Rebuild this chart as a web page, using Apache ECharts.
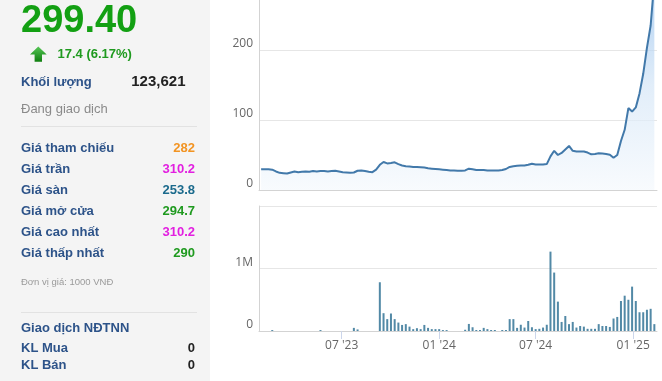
<!DOCTYPE html>
<html><head><meta charset="utf-8">
<script src="https://cdn.jsdelivr.net/npm/echarts@6/dist/echarts.min.js"></script>
<style>html,body{margin:0;padding:0;background:#fff}#c{width:662px;height:381px}</style>
</head><body><div id="c"></div>
<script>
// ---- data ----
const firstWeek = '2023-01-30';   // weekly points (Mondays)
const weekCount = 107;
const price = [
  29.5,29.8,29.6,29,26.5,24.5,24,23.5,25,26.5,
  25.5,26,26.5,26,27,26.5,27,27,26.5,27,
  27.5,26.5,25.5,25,24.5,25,27.5,28,27,26,
  25.5,29,36,40,38,38.5,39.5,37,35,34,
  33.5,33,33,32.5,32,31,30.5,30,29.5,29,
  28.5,28,28,27.5,27.5,28,30.5,29.5,28.5,28.5,
  28.5,28,28,28,28,28.5,30,33,34,34.5,
  35,35,36,37.5,36.5,36.5,36.5,37,48,56,
  50,53,58,63,56,55,55,55,53.5,51,
  51.5,52.5,52,51.5,50.5,46,50,70,86,117,
  112,118,138,166,203,235,299.4
];
const volumeM = [
  0,0,0,0.015,0,0,0,0,0,0,
  0,0,0,0,0,0,0.015,0,0,0,
  0,0,0,0,0,0.05,0.025,0,0,0,
  0,0,0.78,0.285,0.19,0.28,0.19,0.135,0.097,0.11,
  0.07,0.03,0.045,0.03,0.097,0.05,0.03,0.03,0.03,0.015,
  0.015,0,0,0,0,0.02,0.113,0.06,0.016,0.016,
  0.05,0.03,0.016,0.016,0,0.016,0.016,0.19,0.19,0.05,
  0.1,0.055,0.16,0.06,0.03,0.035,0.055,0.1,1.27,0.935,
  0.47,0.145,0.24,0.11,0.145,0.055,0.08,0.07,0.035,0.035,
  0.035,0.11,0.08,0.08,0.065,0.2,0.225,0.48,0.565,0.5,
  0.71,0.48,0.3,0.3,0.34,0.355,0.11
];
const axisStart = '2023-01-26';
const axisEnd = '2025-02-15';
const tickDates = ['2023-07-01','2024-01-01','2024-07-01','2025-01-01'];
const tickLabels = ["07 '23","01 '24","07 '24","01 '25"];
const priceTickLabels = ['0','100','200','300'];
const volumeTickLabels = ['0','1M','2M'];

// side panel info
const lastPrice = '299.40';
const change = '17.4 (6.17%)';
const volumeText = '123,621';
const infoLabels = ['Giá tham chiếu','Giá trần','Giá sàn','Giá mở cửa','Giá cao nhất','Giá thấp nhất'];
const infoValues = ['282','310.2','253.8','294.7','310.2','290'];
const infoColors = ['#f29423','#e21fe0','#1b6a8c','#1f9a1f','#e21fe0','#1f9a1f'];

// ---- build ----
const ts = s => { const [y,m,d] = s.split('-').map(Number); return new Date(y, m-1, d).getTime(); };
const fw = firstWeek.split('-').map(Number);
const weeks = [];
for (let i = 0; i < weekCount; i++) weeks.push(new Date(fw[0], fw[1]-1, fw[2] + 7*i).getTime());
const priceData = weeks.map((t,i) => [t, price[i]]);
const volData = weeks.map((t,i) => [t, volumeM[i]]);
const tickTs = tickDates.map(ts);

const FONT = "'Liberation Sans', Arial, sans-serif";
const AX_FONT = "'Open Sans', sans-serif";
const BLUE = '#2d5389';
function T(text, x, y, size, fill, weight, align) {
  return { type:'text', x:x, y:y, silent:true,
    style:{ text:text, fill:fill, fontSize:size, fontWeight:weight||'normal', fontFamily:FONT,
      align:align||'left', verticalAlign:'middle', textAlign:align||'left', textVerticalAlign:'middle' } };
}
const rowY = [148.3,169.3,190,211.7,232.3,253.3];
const graphics = [
  { type:'rect', shape:{x:0,y:0,width:210,height:381}, style:{fill:'#f4f4f4'}, silent:true, z:-10 },
  T(lastPrice, 21, 21.7, 38, '#13a013', 'bold'),
  { type:'polygon', silent:true,
    shape:{ points:[[38.3,46.5],[46.7,54.5],[42,54.5],[42,61.7],[34.6,61.7],[34.6,54.5],[30,54.5]] },
    style:{ fill:{ type:'linear', x:0, y:0, x2:0, y2:1, colorStops:[{offset:0,color:'#56c656'},{offset:1,color:'#0f7f0f'}] } } },
  T(change, 57.5, 54.5, 13, '#1f9a1f', 'bold'),
  T('Khối lượng', 21, 82.7, 13, BLUE, 'bold'),
  T(volumeText, 185.5, 81.5, 15, '#222', 'bold', 'right'),
  T('Đang giao dịch', 21, 109, 13, '#8a8a8a'),
  { type:'line', silent:true, shape:{x1:21,y1:126.5,x2:197,y2:126.5}, style:{stroke:'#e2e2e2', lineWidth:1} },
  T('Đơn vị giá: 1000 VNĐ', 21, 282.5, 9.5, '#9a9a9a'),
  { type:'line', silent:true, shape:{x1:21,y1:312.5,x2:197,y2:312.5}, style:{stroke:'#e2e2e2', lineWidth:1} },
  T('Giao dịch NĐTNN', 21, 328, 13, BLUE, 'bold'),
  T('KL Mua', 21, 348.3, 13, BLUE, 'bold'),
  T('0', 195, 348.3, 13, '#222', 'bold', 'right'),
  T('KL Bán', 21, 365.5, 13, BLUE, 'bold'),
  T('0', 195, 365.5, 13, '#222', 'bold', 'right')
];
infoLabels.forEach((l,i) => {
  graphics.push(T(l, 21, rowY[i], 13, BLUE, 'bold'));
  graphics.push(T(infoValues[i], 195, rowY[i], 13, infoColors[i], 'bold', 'right'));
});

const axLine = { show:true, onZero:false, lineStyle:{ color:'#d3d3d3', width:1 } };
const chart = echarts.init(document.getElementById('c'), null, { renderer:'canvas' });
chart.setOption({
  animation:false,
  backgroundColor:'#ffffff',
  graphic: graphics,
  grid:[
    { left:259, right:5, top:-20, height:210, outerBoundsMode:'none', containLabel:false },
    { left:259, right:5, top:206, height:125, outerBoundsMode:'none', containLabel:false }
  ],
  xAxis:[
    { type:'value', gridIndex:0, min:ts(axisStart), max:ts(axisEnd),
      axisLine:axLine, axisTick:{show:false}, axisLabel:{show:false}, splitLine:{show:false} },
    { type:'value', gridIndex:1, min:ts(axisStart), max:ts(axisEnd),
      axisLine:axLine,
      axisTick:{ show:true, customValues:tickTs, length:8, lineStyle:{color:'#ccd6eb'} },
      axisLabel:{ show:true, customValues:tickTs, margin:9, color:'#666', fontSize:12, fontFamily:AX_FONT,
        formatter:(v) => { const k = tickTs.indexOf(v); return k >= 0 ? tickLabels[k] : ''; } },
      splitLine:{show:false} }
  ],
  yAxis:[
    { type:'value', gridIndex:0, min:0, max:300, interval:100,
      axisLine:axLine, axisTick:{show:false},
      axisLabel:{ color:'#666', fontSize:12, fontFamily:AX_FONT, margin:6, verticalAlign:'bottom',
        formatter:(v) => priceTickLabels[Math.round(v/100)] },
      splitLine:{ show:true, lineStyle:{color:'#e6e6e6', width:1} } },
    { type:'value', gridIndex:1, min:0, max:2, interval:1,
      axisLine:axLine, axisTick:{show:false},
      axisLabel:{ color:'#666', fontSize:12, fontFamily:AX_FONT, margin:6, verticalAlign:'bottom', showMaxLabel:false,
        formatter:(v) => volumeTickLabels[Math.round(v)] },
      splitLine:{ show:true, lineStyle:{color:'#e6e6e6', width:1} } }
  ],
  series:[
    { type:'line', xAxisIndex:0, yAxisIndex:0, data:priceData, showSymbol:false, symbol:'none',
      lineStyle:{ color:'#4279aa', width:2 }, clip:true,
      areaStyle:{ color:{ type:'linear', x:0, y:0, x2:0, y2:1,
        colorStops:[{offset:0,color:'#8ebcec'},{offset:0.5,color:'#d5e6f7'},{offset:1,color:'#f5f9fd'}] } } },
    { type:'bar', xAxisIndex:1, yAxisIndex:1, data:volData, barWidth:2,
      itemStyle:{ color:'#5289a6' } }
  ]
});
</script>
</body></html>
